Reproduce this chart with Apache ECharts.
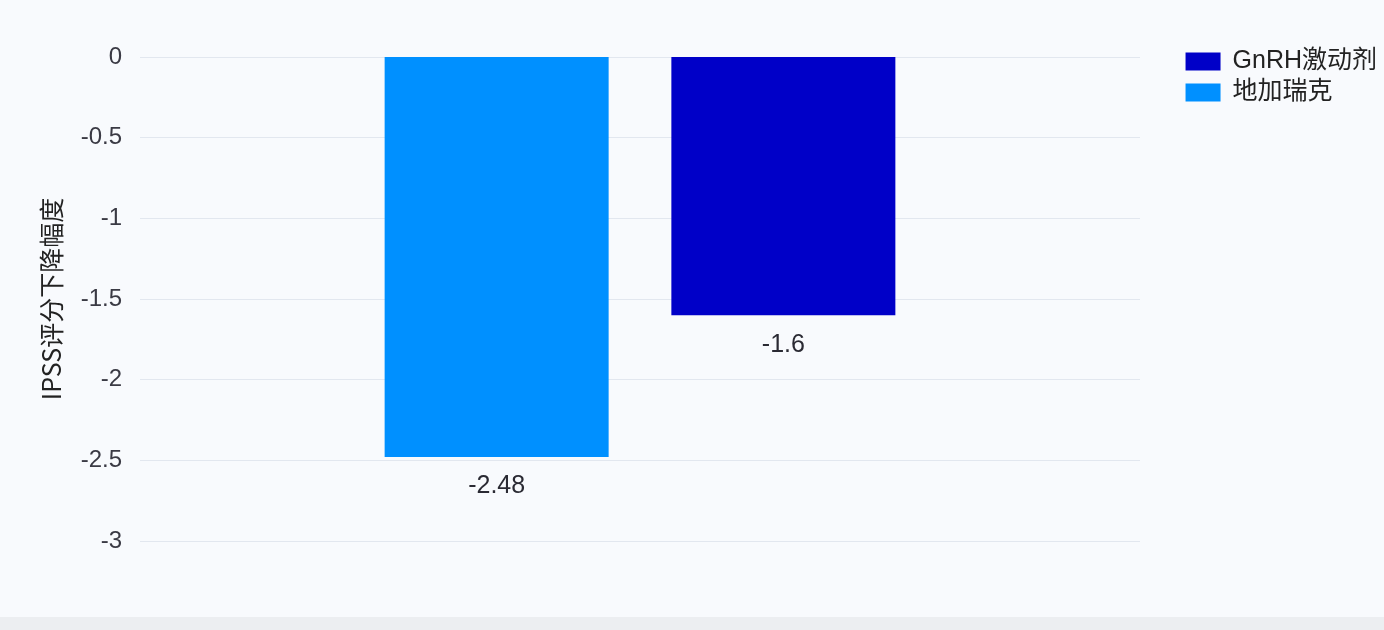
<!DOCTYPE html>
<html><head><meta charset="utf-8">
<script src="https://cdn.jsdelivr.net/npm/echarts@6/dist/echarts.min.js"></script>
<style>html,body{margin:0;padding:0;background:#f8fafd;}#c{width:1384px;height:630px;}</style>
</head><body><div id="c"></div>
<script>
const categories = ['IPSS'];
const seriesNames = ['地加瑞克', 'GnRH激动剂'];
const degarelixValues = [-2.48];
const gnrhValues = [-1.6];
const yTicks = [0, -0.5, -1, -1.5, -2, -2.5, -3];

const chart = echarts.init(document.getElementById('c'));
const labelStyle = {show: true, position: 'bottom', distance: 17, fontSize: 25, color: '#2a2a33', fontFamily: 'Liberation Sans, Arial, sans-serif'};
chart.setOption({
  backgroundColor: '#f8fafd',
  textStyle: {fontFamily: 'Liberation Sans, "Noto Sans CJK SC", sans-serif'},
  grid: {left: 140, right: 244, top: 57, bottom: 89},
  legend: {
    orient: 'vertical', right: 2, top: 44, itemWidth: 35, itemHeight: 18, itemGap: 6,
    icon: 'rect',
    data: [seriesNames[1], seriesNames[0]],
    textStyle: {fontSize: 25, color: '#222', padding: [0, 0, 0, 7], fontFamily: 'Liberation Sans, "Noto Sans CJK SC", sans-serif'}
  },
  xAxis: {type: 'category', data: categories, show: false},
  yAxis: {
    type: 'value', min: -3, max: 0, interval: 0.5,
    name: 'IPSS评分下降幅度', nameLocation: 'middle', nameGap: 76, nameRotate: 90,
    nameTextStyle: {fontSize: 25, color: '#222', fontFamily: '"Noto Sans CJK SC", sans-serif'},
    axisLine: {show: false}, axisTick: {show: false},
    axisLabel: {fontSize: 24, color: '#3a3a44', margin: 18, formatter: v => String(yTicks.find(t => Math.abs(t - v) < 1e-9) ?? v)},
    splitLine: {lineStyle: {color: '#e2e7ef', width: 1}}
  },
  series: [
    {name: seriesNames[0], type: 'bar', data: degarelixValues, barWidth: 224, barGap: '28%', itemStyle: {color: '#0090ff'}, label: labelStyle},
    {name: seriesNames[1], type: 'bar', data: gnrhValues, barWidth: 224, itemStyle: {color: '#0000c8'}, label: labelStyle}
  ],
  graphic: [
    {type: 'rect', left: 0, top: 617, shape: {width: 1384, height: 13}, style: {fill: '#eceef1'}, silent: true}
  ]
});
</script></body></html>
